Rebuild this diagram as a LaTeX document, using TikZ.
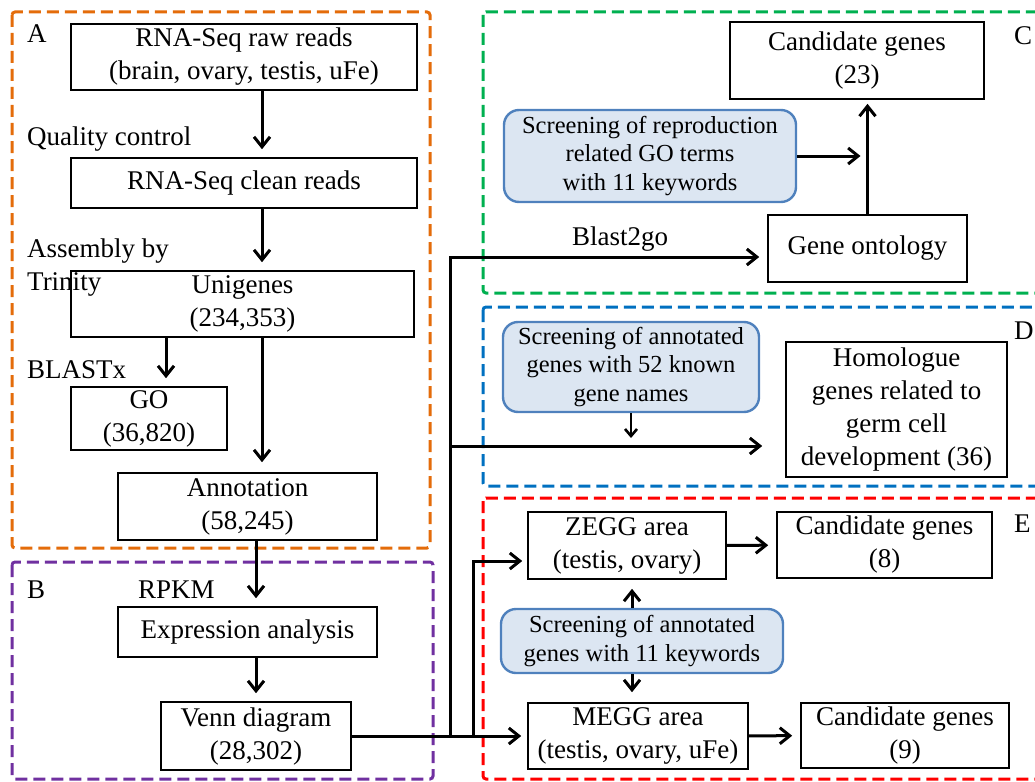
\documentclass[tikz,border=0pt]{standalone}
\usepackage{fontspec}
\setmainfont{Liberation Serif}
\usetikzlibrary{arrows.meta}
\definecolor{frameA}{HTML}{E46C0A}
\definecolor{frameB}{HTML}{7030A0}
\definecolor{frameC}{HTML}{00B050}
\definecolor{frameD}{HTML}{0070C0}
\definecolor{frameE}{HTML}{FF0000}
\definecolor{screenfill}{HTML}{DCE6F2}
\definecolor{screenline}{HTML}{4F81BD}
\begin{document}
\begin{tikzpicture}
  [x=1pt,y=-1pt,
   every node/.style={font=\fontsize{27}{33}\selectfont},
   box/.style={draw,line width=1.6pt,align=center,inner sep=0pt},
   screen/.style={draw=screenline,fill=screenfill,line width=2.4pt,rounded corners=15pt,
     align=center,inner sep=0pt,font=\fontsize{24.5}{28.5}\selectfont},
   lbl/.style={anchor=base west,inner sep=0pt},
   frame/.style={line width=3pt,dash pattern=on 12pt off 6pt,rounded corners=3pt},
   arr/.style={line width=3pt,-{Straight Barb[length=10pt,width=16pt]},shorten >=8pt}]
  \useasboundingbox (0,0) rectangle (1035,781);

  % dashed frames
  \draw[frame,frameA] (12,12) rectangle (430,548);
  \draw[frame,frameB] (12,562) rectangle (433,779);
  \draw[frame,frameC] (483,12) rectangle (1050,293);
  \draw[frame,frameD] (483,307) rectangle (1050,486);
  \draw[frame,frameE] (483,498) rectangle (1050,779);

  % part A and B
  \node[box,minimum width=346,minimum height=66] (raw) at (244,57) {RNA-Seq raw reads\\(brain, ovary, testis, uFe)};
  \node[box,minimum width=346,minimum height=50] (clean) at (244,183) {RNA-Seq clean reads};
  \node[box,minimum width=343,minimum height=66] (uni) at (242.5,304) {Unigenes\\(234,353)};
  \node[box,minimum width=156,minimum height=63] (go) at (149,418.5) {GO\\(36,820)};
  \node[box,minimum width=259,minimum height=67] (annot) at (247.5,506.5) {Annotation\\(58,245)};
  \node[box,minimum width=259,minimum height=50] (expr) at (247.5,632) {Expression analysis};
  \node[box,minimum width=190,minimum height=68] (venn) at (256,736) {Venn diagram\\(28,302)};

  % part C, D and E
  \node[box,minimum width=254,minimum height=77] (cand23) at (857,60.5) {Candidate genes\\(23)};
  \node[box,minimum width=199,minimum height=67] (geneont) at (867.5,248.5) {Gene ontology};
  \node[screen,minimum width=292,minimum height=92] (scrC) at (650,156) {Screening of reproduction\\related GO terms\\with 11 keywords};
  \node[screen,minimum width=256,minimum height=90] (scrD) at (631,367) {Screening of annotated\\genes with 52 known\\gene names};
  \node[box,minimum width=221,minimum height=135] (homol) at (896.5,409.5) {Homologue\\genes related to\\germ cell\\development (36)};
  \node[box,minimum width=198,minimum height=67] (zegg) at (627,545.5) {ZEGG area\\(testis, ovary)};
  \node[box,minimum width=215,minimum height=66] (cand8) at (884.5,545) {Candidate genes\\(8)};
  \node[screen,minimum width=282,minimum height=64] (scrE) at (642,641) {Screening of annotated\\genes with 11 keywords};
  \node[box,minimum width=220,minimum height=66] (megg) at (638,736) {MEGG area\\(testis, ovary, uFe)};
  \node[box,minimum width=208,minimum height=65] (cand9) at (905,735.5) {Candidate genes\\(9)};

  % labels
  \node[lbl] (labA) at (27,43) {A};
  \node[lbl] (qc) at (27,145) {Quality control};
  \node[lbl] (asm) at (27,257) {Assembly by};
  \node[lbl] (trin) at (27,290) {Trinity};
  \node[lbl] (blx) at (27,378) {BLASTx};
  \node[lbl] (labB) at (27,598) {B};
  \node[lbl] (rpkm) at (138,598) {RPKM};
  \node[lbl] (b2g) at (572,245) {Blast2go};
  \node[lbl] (labC) at (1014,45) {C};
  \node[lbl] (labD) at (1014,339) {D};
  \node[lbl] (labE) at (1014,532) {E};

  \coordinate (jb) at (450,257);
  \coordinate (jd) at (450,446);
  \coordinate (jz) at (473,561);
  \coordinate (dtip) at (631,438);

  % connectors
  \draw[arr] ([xshift=18pt]raw.south) -- ([xshift=18pt]raw.south |- clean.north);
  \draw[arr] ([xshift=18pt]clean.south) -- ([xshift=18pt]clean.south |- uni.north);
  \draw[arr] ([xshift=17pt]go.north |- uni.south) -- ([xshift=17pt]go.north);
  \draw[arr,shorten >=10pt] ([xshift=19.5pt]uni.south) -- ([xshift=19.5pt]uni.south |- annot.north);
  \draw[arr] ([xshift=8.5pt]annot.south) -- ([xshift=8.5pt]annot.south |- expr.north);
  \draw[arr] (venn.north |- expr.south) -- (venn.north);
  \draw[arr,shorten >=6pt] (venn.east) -- (megg.west);
  \draw[arr] (venn.east -| jb) -- (jb) -- (jb -| geneont.west);
  \draw[arr,shorten >=23pt] (jd) -- (jd -| homol.west);
  \draw[arr,shorten >=5pt] (venn.east -| jz) -- (jz) -- (jz -| zegg.west);
  \draw[arr,shorten >=4pt] (geneont.north) -- (geneont.north |- cand23.south);
  \draw[arr,shorten >=7pt] (scrC.east) -- (scrC.east -| geneont.north);
  \draw[line width=2.6pt,-{Straight Barb[length=7pt,width=12pt]}] (scrD.south) -- (dtip);
  \draw[arr,shorten >=9pt] ([xshift=-10pt]scrE.north) -- ([xshift=-10pt]scrE.north |- zegg.south);
  \draw[arr,shorten >=10pt] ([xshift=-10pt]scrE.south) -- ([xshift=-10pt]scrE.south |- megg.north);
  \foreach \from/\to in {zegg/cand8,megg/cand9}
    \draw[arr] (\from) -- (\to);
\end{tikzpicture}
\end{document}
